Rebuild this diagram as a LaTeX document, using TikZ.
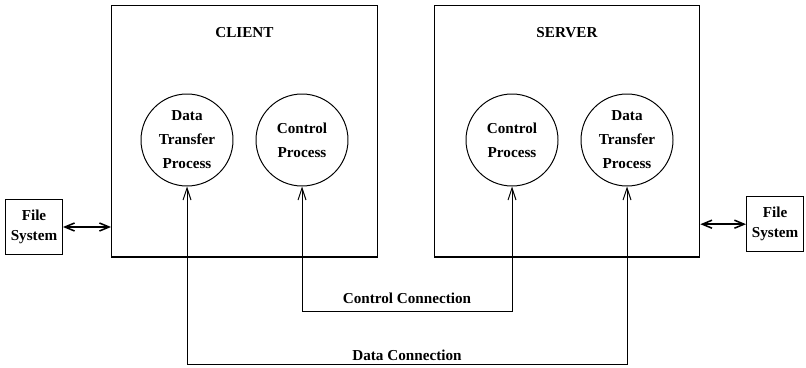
\documentclass[tikz,border=0pt]{standalone}
\usepackage{fontspec}
\setmainfont{Liberation Serif}
\usetikzlibrary{arrows.meta,positioning}

\begin{document}
\begin{tikzpicture}[
    font=\bfseries\fontsize{10.8}{17}\selectfont,
    host/.style={draw, line width=0.8pt, minimum width=6.64cm, minimum height=6.28cm},
    proc/.style={draw, circle, line width=0.7pt, align=center, minimum size=2.3cm, inner sep=0pt},
    fsys/.style={draw, line width=0.8pt, align=center, minimum width=1.42cm, minimum height=1.38cm, inner sep=1pt, font=\bfseries\fontsize{10.8}{14}\selectfont},
    line/.style={{Straight Barb[length=3mm,width=2mm]}-{Straight Barb[length=3mm,width=2mm]}, line width=0.7pt},
    fsline/.style={{Straight Barb[length=2.4mm,width=2mm]}-{Straight Barb[length=2.4mm,width=2mm]}, line width=1.1pt}
]
\useasboundingbox (0,0) rectangle (20.15,9.175);

\node[host] (client) at (6.11,5.89) {};
\node[host] (server) at (14.175,5.89) {};
\node[below=0.43cm of client.north] (clientlbl) {CLIENT};
\node[below=0.43cm of server.north] (serverlbl) {SERVER};

\node[proc] (cdata) at (4.675,5.675) {Data\\Transfer\\Process};
\node[proc] (cctrl) at (7.55,5.675) {Control\\Process};
\node[proc] (sctrl) at (12.8,5.675) {Control\\Process};
\node[proc] (sdata) at (15.675,5.675) {Data\\Transfer\\Process};

\node[fsys] (lfs) at (0.85,3.5) {File\\System};
\node[fsys] (rfs) at (19.375,3.57) {File\\System};

\coordinate (ctlrow) at (0,1.4);
\coordinate (datrow) at (0,0.075);

\draw[line] (cctrl) -- (cctrl |- ctlrow) -- node[above=0.5mm] {Control Connection} (sctrl |- ctlrow) -- (sctrl);
\draw[line] (cdata) -- (cdata |- datrow) -- node[above=-0.5mm] {Data Connection} (sdata |- datrow) -- (sdata);

\draw[fsline] (lfs) -- (lfs -| client.west);
\draw[fsline] (rfs) -- (rfs -| server.east);
\end{tikzpicture}
\end{document}
